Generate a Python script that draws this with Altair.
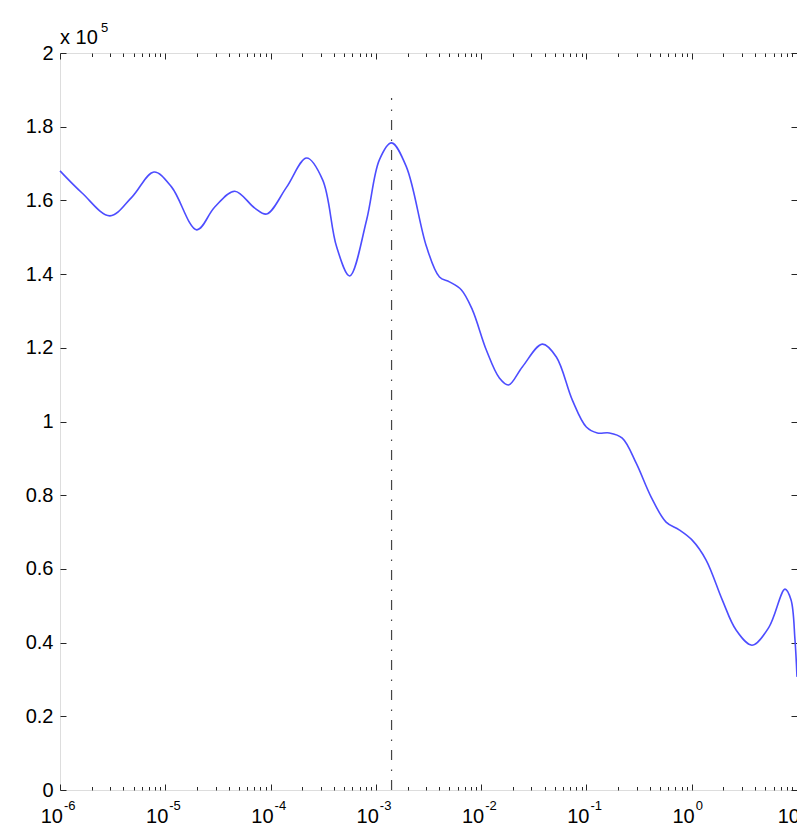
import altair as alt
import pandas as pd

# ---- data (y in units of 1e5) ----
x_vals = [1.00e-6, 1.62e-6, 2.98e-6, 4.82e-6, 7.80e-6,
          1.15e-5, 1.99e-5, 2.95e-5, 4.57e-5, 7.08e-5, 9.18e-5,
          1.42e-4, 2.20e-4, 3.13e-4, 4.24e-4, 5.64e-4, 8.17e-4,
          1.08e-3, 1.41e-3, 1.95e-3, 3.03e-3, 4.02e-3, 5.00e-3, 6.50e-3, 8.26e-3,
          1.12e-2, 1.49e-2, 1.82e-2, 2.46e-2, 3.81e-2, 5.18e-2, 7.35e-2, 9.98e-2,
          0.127, 0.165, 0.219, 0.297, 0.412, 0.571, 0.760,
          1.01, 1.37, 1.95, 2.64, 3.74, 5.42, 7.69, 8.77, 9.57, 10.0]
y_vals = [1.680, 1.620, 1.558, 1.609, 1.677,
          1.636, 1.520, 1.582, 1.625, 1.579, 1.563,
          1.636, 1.715, 1.655, 1.474, 1.395, 1.547,
          1.710, 1.756, 1.691, 1.474, 1.392, 1.379, 1.357, 1.303,
          1.194, 1.118, 1.099, 1.148, 1.210, 1.175, 1.058, 0.985,
          0.969, 0.969, 0.955, 0.887, 0.795, 0.727, 0.706,
          0.678, 0.624, 0.516, 0.434, 0.393, 0.442, 0.545, 0.516, 0.407, 0.307]

vline_x = [1.41e-3]
vline_top = [1.878]

decade_exps = [-6, -5, -4, -3, -2, -1, 0, 1]
exp_labels = ["-6", "-5", "-4", "-3", "-2", "-1", "0", "1"]
y_ticks = [0, 0.2, 0.4, 0.6, 0.8, 1, 1.2, 1.4, 1.6, 1.8, 2]
x_ticks = [m * 10.0 ** d for d in range(-6, 1) for m in range(1, 10)] + [10.0]

W, H = 737, 737
FONT = "Liberation Sans"
AX = "#262626"

curve = pd.DataFrame({"x": x_vals, "y": y_vals})
vline = pd.DataFrame({"x": vline_x, "y0": [0] * len(vline_x), "y1": vline_top})
decades = pd.DataFrame({"e": decade_exps, "lab": exp_labels})

xscale = alt.Scale(type="log", domain=[1e-6, 10], nice=False)
yscale = alt.Scale(domain=[0, 2], nice=False, zero=True)

major_test = "abs(log(datum.value)/LN10 - round(log(datum.value)/LN10)) < 0.001"
x_dash = {"condition": {"test": major_test, "value": [20, 0]}, "value": [3.5, 30]}

def x_axis(orient):
    return alt.Axis(orient=orient, values=x_ticks, labels=False, title=None,
                    domain=False, grid=False, tickSize={"expr": "-6"},
                    tickColor=AX, tickWidth=1, tickDash=x_dash)

def y_axis(orient, labels):
    kw = dict(orient=orient, values=y_ticks, title=None, domain=False, grid=False,
              tickSize={"expr": "-6"}, tickColor=AX, tickWidth=1, labels=labels)
    if labels:
        kw.update(format="~g", labelFont=FONT, labelFontSize=20, labelColor="#000000",
                  labelPadding=13)
    return alt.Axis(**kw)

line = alt.Chart(curve).mark_line(
    color="#4d4dff", strokeWidth=1.6, interpolate="catmull-rom"
).encode(
    x=alt.X("x:Q", scale=xscale, axis=x_axis("bottom")),
    y=alt.Y("y:Q", scale=yscale, axis=y_axis("left", True)),
)

rule = alt.Chart(vline).mark_rule(
    color="#444444", strokeWidth=1.2, strokeDash=[10, 9, 1.5, 9.5]
).encode(
    x=alt.X("x:Q", scale=xscale, axis=x_axis("top")),
    y=alt.Y("y0:Q", scale=yscale, axis=y_axis("right", False)),
    y2="y1:Q",
)

base_txt = alt.Chart(decades).transform_calculate(xv="pow(10, datum.e)")
ten = base_txt.mark_text(
    text="10", align="right", baseline="alphabetic", dx=3,
    font=FONT, fontSize=20, color="#000000"
).encode(x=alt.X("xv:Q", scale=xscale, axis=None), y=alt.value(H + 33))
expo = base_txt.mark_text(
    align="left", baseline="alphabetic", dx=4,
    font=FONT, fontSize=13, color="#000000"
).encode(x=alt.X("xv:Q", scale=xscale, axis=None), y=alt.value(H + 20), text="lab:N")

mult = alt.Chart(pd.DataFrame({"t": ["x 10"]})).mark_text(
    align="left", baseline="alphabetic", font=FONT, fontSize=20, color="#000000"
).encode(x=alt.value(0), y=alt.value(-9), text="t:N")
mult_exp = alt.Chart(pd.DataFrame({"t": ["5"]})).mark_text(
    align="left", baseline="alphabetic", font=FONT, fontSize=13, color="#000000"
).encode(x=alt.value(41), y=alt.value(-21), text="t:N")

chart = alt.layer(line, rule, ten, expo, mult, mult_exp).resolve_axis(
    x="independent", y="independent"
).properties(
    width=W, height=H,
    autosize=alt.AutoSizeParams(type="none"),
    padding={"left": 52, "top": 45, "right": 0, "bottom": 37},
).configure_view(stroke=AX, strokeWidth=1).configure(background="white")

chart.save("out.html", embed_options={"renderer": "svg", "actions": False})
